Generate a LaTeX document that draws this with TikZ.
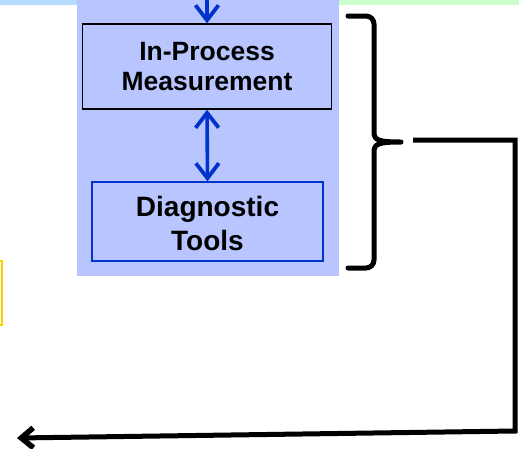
\documentclass[tikz,border=0pt]{standalone}
\usepackage{fontspec}
\newfontfamily\labelfont{Liberation Sans}
\usetikzlibrary{arrows.meta}
\definecolor{panelblue}{HTML}{B8C5FF}
\definecolor{stripblue}{HTML}{B4DCFF}
\definecolor{stripgreen}{HTML}{CCFFCC}
\definecolor{arrowblue}{HTML}{0033CC}
\definecolor{gold}{HTML}{FFD000}
\tikzset{
  x=1pt, y=-1pt,
  boxtext/.style={align=center, inner sep=0pt},
  bluetip/.tip={Straight Barb[length=15pt,width=23pt,line width=3.8pt]},
  flowarrow/.style={draw=arrowblue, line width=3.6pt, arrows={-bluetip}},
  flowarrows/.style={draw=arrowblue, line width=3.6pt, arrows={bluetip-bluetip}},
  thickline/.style={draw=black, line width=5pt, line cap=round, line join=round},
}
\begin{document}
\begin{tikzpicture}
\useasboundingbox (0,0) rectangle (519,448);
% header strips and panel
\fill[stripblue] (0,0) rectangle (77,5);
\fill[stripgreen] (339,0) rectangle (519,5);
\fill[panelblue] (77,0) rectangle (339,276);
% yellow box edge at the left
\draw[gold, line width=2pt] (-20,261) rectangle (2,325);
% boxes
\node[boxtext, font=\labelfont\bfseries\fontsize{26.5}{30}\selectfont, draw=black, line width=1.3pt, minimum width=249pt, minimum height=85pt] (ipm) at (207,66.5) {In-Process\\Measurement};
\node[boxtext, font=\labelfont\bfseries\fontsize{28}{34.5}\selectfont, draw=arrowblue, line width=1.3pt, minimum width=231pt, minimum height=79pt] (diag) at (207.5,221.5) {\rule{0pt}{24pt}Diagnostic\\Tools};
% arrows
\coordinate (topin) at (207,0);
\draw[flowarrow] (topin) -- (ipm.north);
\draw[flowarrows] (ipm.south) -- (diag.north);
% brace
\draw[thickline] (348,16) -- (366,16) to[out=0,in=90] (374,24) -- (374,132)
  .. controls (374,140) and (378,142) .. (401,142)
  .. controls (378,142) and (374,144) .. (374,152) -- (374,260)
  to[out=-90,in=0] (366,268) -- (348,268);
% feedback connector
\coordinate (fbstart) at (413,140);
\coordinate (fbcorner1) at (515,140);
\coordinate (fbcorner2) at (515,431);
\coordinate (fbend) at (17,438);
\draw[draw=black, line width=5pt, line join=miter, arrows={-Straight Barb[length=12pt,width=20pt,line width=5.5pt]}] (fbstart) -- (fbcorner1) -- (fbcorner2) -- (fbend);
\end{tikzpicture}
\end{document}
